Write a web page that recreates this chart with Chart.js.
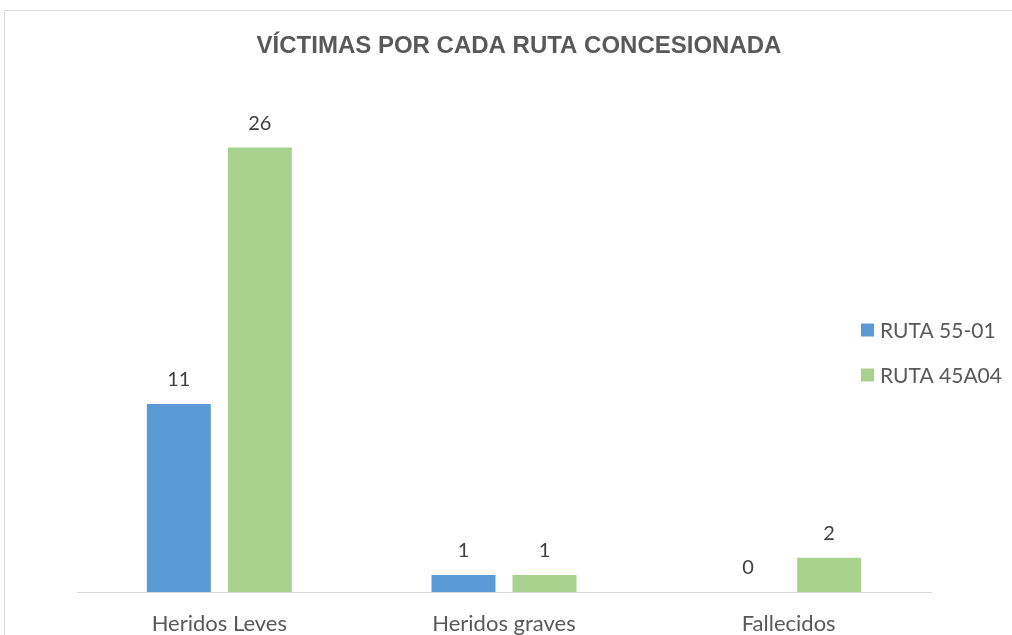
<!DOCTYPE html>
<html lang="es">
<head>
<meta charset="UTF-8">
<title>Víctimas por cada ruta concesionada</title>
<style>
  html, body { margin: 0; padding: 0; background: #fff; }
  #wrap { position: relative; width: 1012px; height: 635px; }
</style>
</head>
<body>
<div id="wrap">
  <canvas id="myChart" width="1012" height="635"></canvas>
</div>

<script src="https://cdn.jsdelivr.net/npm/chart.js"></script>
<script>
// datos del gráfico
const titulo = 'VÍCTIMAS POR CADA RUTA CONCESIONADA';
const categorias = ['Heridos Leves', 'Heridos graves', 'Fallecidos'];
const series = ['RUTA 55-01', 'RUTA 45A04'];
const ruta5501 = [11, 1, 0];
const ruta45A04 = [26, 1, 2];

const colores = ['#5B9BD5', '#A9D18E'];
const fuente = "Lato, 'Open Sans', sans-serif";

// marco gris y título
const marco = {
  id: 'marco',
  beforeDraw(chart) {
    const c = chart.ctx;
    c.save();
    c.strokeStyle = '#d9d9d9';
    c.lineWidth = 1;
    c.beginPath();
    c.moveTo(4.5, 640);
    c.lineTo(4.5, 10.5);
    c.lineTo(1012, 10.5);
    c.stroke();
    c.font = "bold 24px 'Liberation Sans', Arial, sans-serif";
    c.fillStyle = '#595959';
    c.textAlign = 'center';
    c.textBaseline = 'middle';
    c.fillText(titulo, 519, 46);
    c.restore();
  }
};

// etiquetas de valor encima de cada barra
const etiquetas = {
  id: 'etiquetas',
  afterDatasetsDraw(chart) {
    const c = chart.ctx;
    c.save();
    c.font = '20px ' + fuente;
    c.fillStyle = '#404040';
    c.textAlign = 'center';
    c.textBaseline = 'middle';
    chart.data.datasets.forEach((ds, i) => {
      chart.getDatasetMeta(i).data.forEach((bar, j) => {
        c.fillText(String(ds.data[j]), bar.x, bar.y - 24);
      });
    });
    c.restore();
  }
};

// leyenda a la derecha, sobre el área de trazado
const leyenda = {
  id: 'leyenda',
  afterDraw(chart) {
    const c = chart.ctx;
    c.save();
    c.font = '21px ' + fuente;
    c.textBaseline = 'middle';
    series.forEach((nombre, i) => {
      const y = 330 + i * 45;
      c.fillStyle = colores[i];
      c.fillRect(861, y - 6.5, 13, 13);
      c.fillStyle = '#595959';
      c.fillText(nombre, 880, y + 1);
    });
    c.restore();
  }
};

new Chart(document.getElementById('myChart'), {
  type: 'bar',
  data: {
    labels: categorias,
    datasets: [
      { label: series[0], data: ruta5501, backgroundColor: colores[0] },
      { label: series[1], data: ruta45A04, backgroundColor: colores[1] }
    ]
  },
  options: {
    responsive: false,
    animation: false,
    layout: { padding: { left: 77, right: 81, top: 79, bottom: 0 } },
    categoryPercentage: 0.569,
    barPercentage: 0.79,
    plugins: {
      legend: { display: false },
      tooltip: { enabled: false },
      title: { display: false }
    },
    scales: {
      x: {
        grid: { display: false, drawTicks: false },
        border: { display: true, color: '#d9d9d9', width: 1 },
        ticks: { color: '#595959', font: { family: fuente, size: 22, lineHeight: 1.0 }, padding: 21 },
        afterFit(scale) { scale.height = 43; }
      },
      y: {
        display: false,
        min: 0,
        max: 30
      }
    }
  },
  plugins: [marco, etiquetas, leyenda]
});
</script>
</body>
</html>
